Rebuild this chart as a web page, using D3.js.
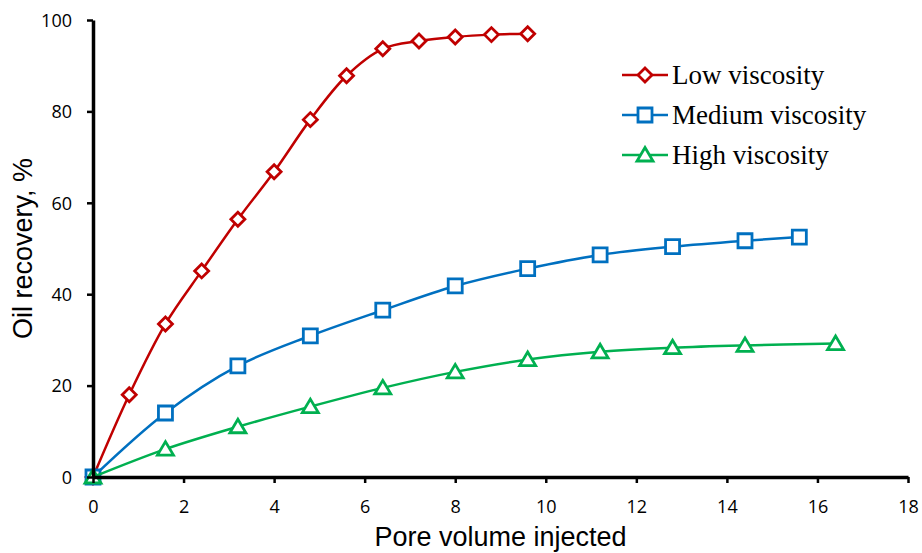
<!DOCTYPE html>
<html>
<head>
<meta charset="utf-8">
<script src="https://cdn.jsdelivr.net/npm/d3@7"></script>
<style>
  body { margin: 0; background: #fff; }
  .tick text { font-family: "Open Sans", "Noto Sans", sans-serif; font-size: 18px; fill: #000; }
</style>
</head>
<body>
<div id="chart"></div>
<script>
'use strict';

const lowX = [0, 0.8, 1.6, 2.4, 3.2, 4.0, 4.8, 5.6, 6.4, 7.2, 8.0, 8.8, 9.6];
const lowY = [0, 18, 33.5, 45.1, 56.4, 66.8, 78.2, 87.8, 93.7, 95.4, 96.3, 96.8, 97.0];
const medX = [0, 1.6, 3.2, 4.8, 6.4, 8.0, 9.6, 11.2, 12.8, 14.4, 15.6];
const medY = [0, 14.0, 24.3, 30.9, 36.5, 41.8, 45.6, 48.6, 50.4, 51.7, 52.5];
const highX = [0, 1.6, 3.2, 4.8, 6.4, 8.0, 9.6, 11.2, 12.8, 14.4, 16.4];
const highY = [0, 6.1, 11.0, 15.4, 19.5, 23.0, 25.7, 27.4, 28.3, 28.8, 29.2];
const seriesNames = ["Low viscosity", "Medium viscosity", "High viscosity"];
const xTicks = [0, 2, 4, 6, 8, 10, 12, 14, 16, 18];
const yTicks = [0, 20, 40, 60, 80, 100];

(function () {
  const width = 922, height = 553;
  const margin = {left: 93, right: 14, top: 20, bottom: 76};

  const svg = d3.select("#chart").append("svg")
    .attr("width", width)
    .attr("height", height);

  const x = d3.scaleLinear().domain([0, 18]).range([margin.left, width - margin.right]);
  const y = d3.scaleLinear().domain([0, 100]).range([height - margin.bottom, margin.top]);

  const series = [
    {name: seriesNames[0], xs: lowX, ys: lowY, color: "#C00000", marker: "diamond"},
    {name: seriesNames[1], xs: medX, ys: medY, color: "#0070C0", marker: "square"},
    {name: seriesNames[2], xs: highX, ys: highY, color: "#00B050", marker: "triangle"}
  ];

  const markerPath = (type) => {
    switch (type) {
      case "diamond": return "M0,-7L7,0L0,7L-7,0Z";
      case "square": return "M-7,-7L7,-7L7,7L-7,7Z";
    }
    return "M0,-7.5L8,6L-8,6Z";
  };

  const line = d3.line()
    .x(d => x(d[0]))
    .y(d => y(d[1]))
    .curve(d3.curveCatmullRom.alpha(0.5));

  series.forEach(s => {
    const pts = s.xs.map((v, i) => [v, s.ys[i]]);
    const g = svg.append("g");
    g.append("path")
      .attr("d", line(pts))
      .attr("fill", "none")
      .attr("stroke", s.color)
      .attr("stroke-width", 2.5);
    g.selectAll("path.mk")
      .data(pts)
      .enter()
      .append("path")
      .classed("mk", true)
      .attr("transform", d => `translate(${x(d[0])}, ${y(d[1])})`)
      .attr("d", markerPath(s.marker))
      .attr("fill", "#fff")
      .attr("stroke", s.color)
      .attr("stroke-width", 2.8);
  });

  // axes
  const xAxis = svg.append("g")
    .attr("transform", `translate(0, ${y(0)})`)
    .call(d3.axisBottom(x).tickValues(xTicks).tickSize(6).tickPadding(17).tickSizeOuter(0));
  const yAxis = svg.append("g")
    .attr("transform", `translate(${x(0)}, 0)`)
    .call(d3.axisLeft(y).tickValues(yTicks).tickSize(6).tickPadding(15).tickSizeOuter(0));

  [xAxis, yAxis].forEach(a => {
    a.select(".domain").attr("stroke", "#000").attr("stroke-width", 3.5);
    a.selectAll(".tick line").attr("stroke", "#000").attr("stroke-width", 2.5);
  });
  yAxis.selectAll(".tick text").attr("dy", "0.35em");

  svg.append("text")
    .attr("x", (x(0) + x(18)) / 2)
    .attr("y", 546)
    .attr("text-anchor", "middle")
    .style("font-family", "'Liberation Sans', Arial, sans-serif")
    .style("font-size", "27px")
    .text("Pore volume injected");

  svg.append("text")
    .attr("transform", `translate(32, ${(y(0) + y(100)) / 2}) rotate(-90)`)
    .attr("text-anchor", "middle")
    .style("font-family", "'Liberation Sans', Arial, sans-serif")
    .style("font-size", "27px")
    .text("Oil recovery, %");

  // legend
  const legend = svg.append("g").attr("transform", "translate(622, 75)");
  const item = legend.selectAll("g.item")
    .data(series)
    .enter()
    .append("g")
    .classed("item", true)
    .attr("transform", (d, i) => `translate(0, ${i * 40})`);
  item.append("line")
    .attr("x1", 0).attr("x2", 46)
    .attr("stroke", d => d.color)
    .attr("stroke-width", 2.5);
  item.append("path")
    .attr("transform", "translate(23, 0)")
    .attr("d", d => markerPath(d.marker))
    .attr("fill", "#fff")
    .attr("stroke", d => d.color)
    .attr("stroke-width", 2.8);
  item.append("text")
    .attr("x", 50)
    .attr("dy", "0.35em")
    .style("font-family", "'Liberation Serif', 'Times New Roman', serif")
    .style("font-size", "27px")
    .text(d => d.name);
})();
</script>
</body>
</html>
